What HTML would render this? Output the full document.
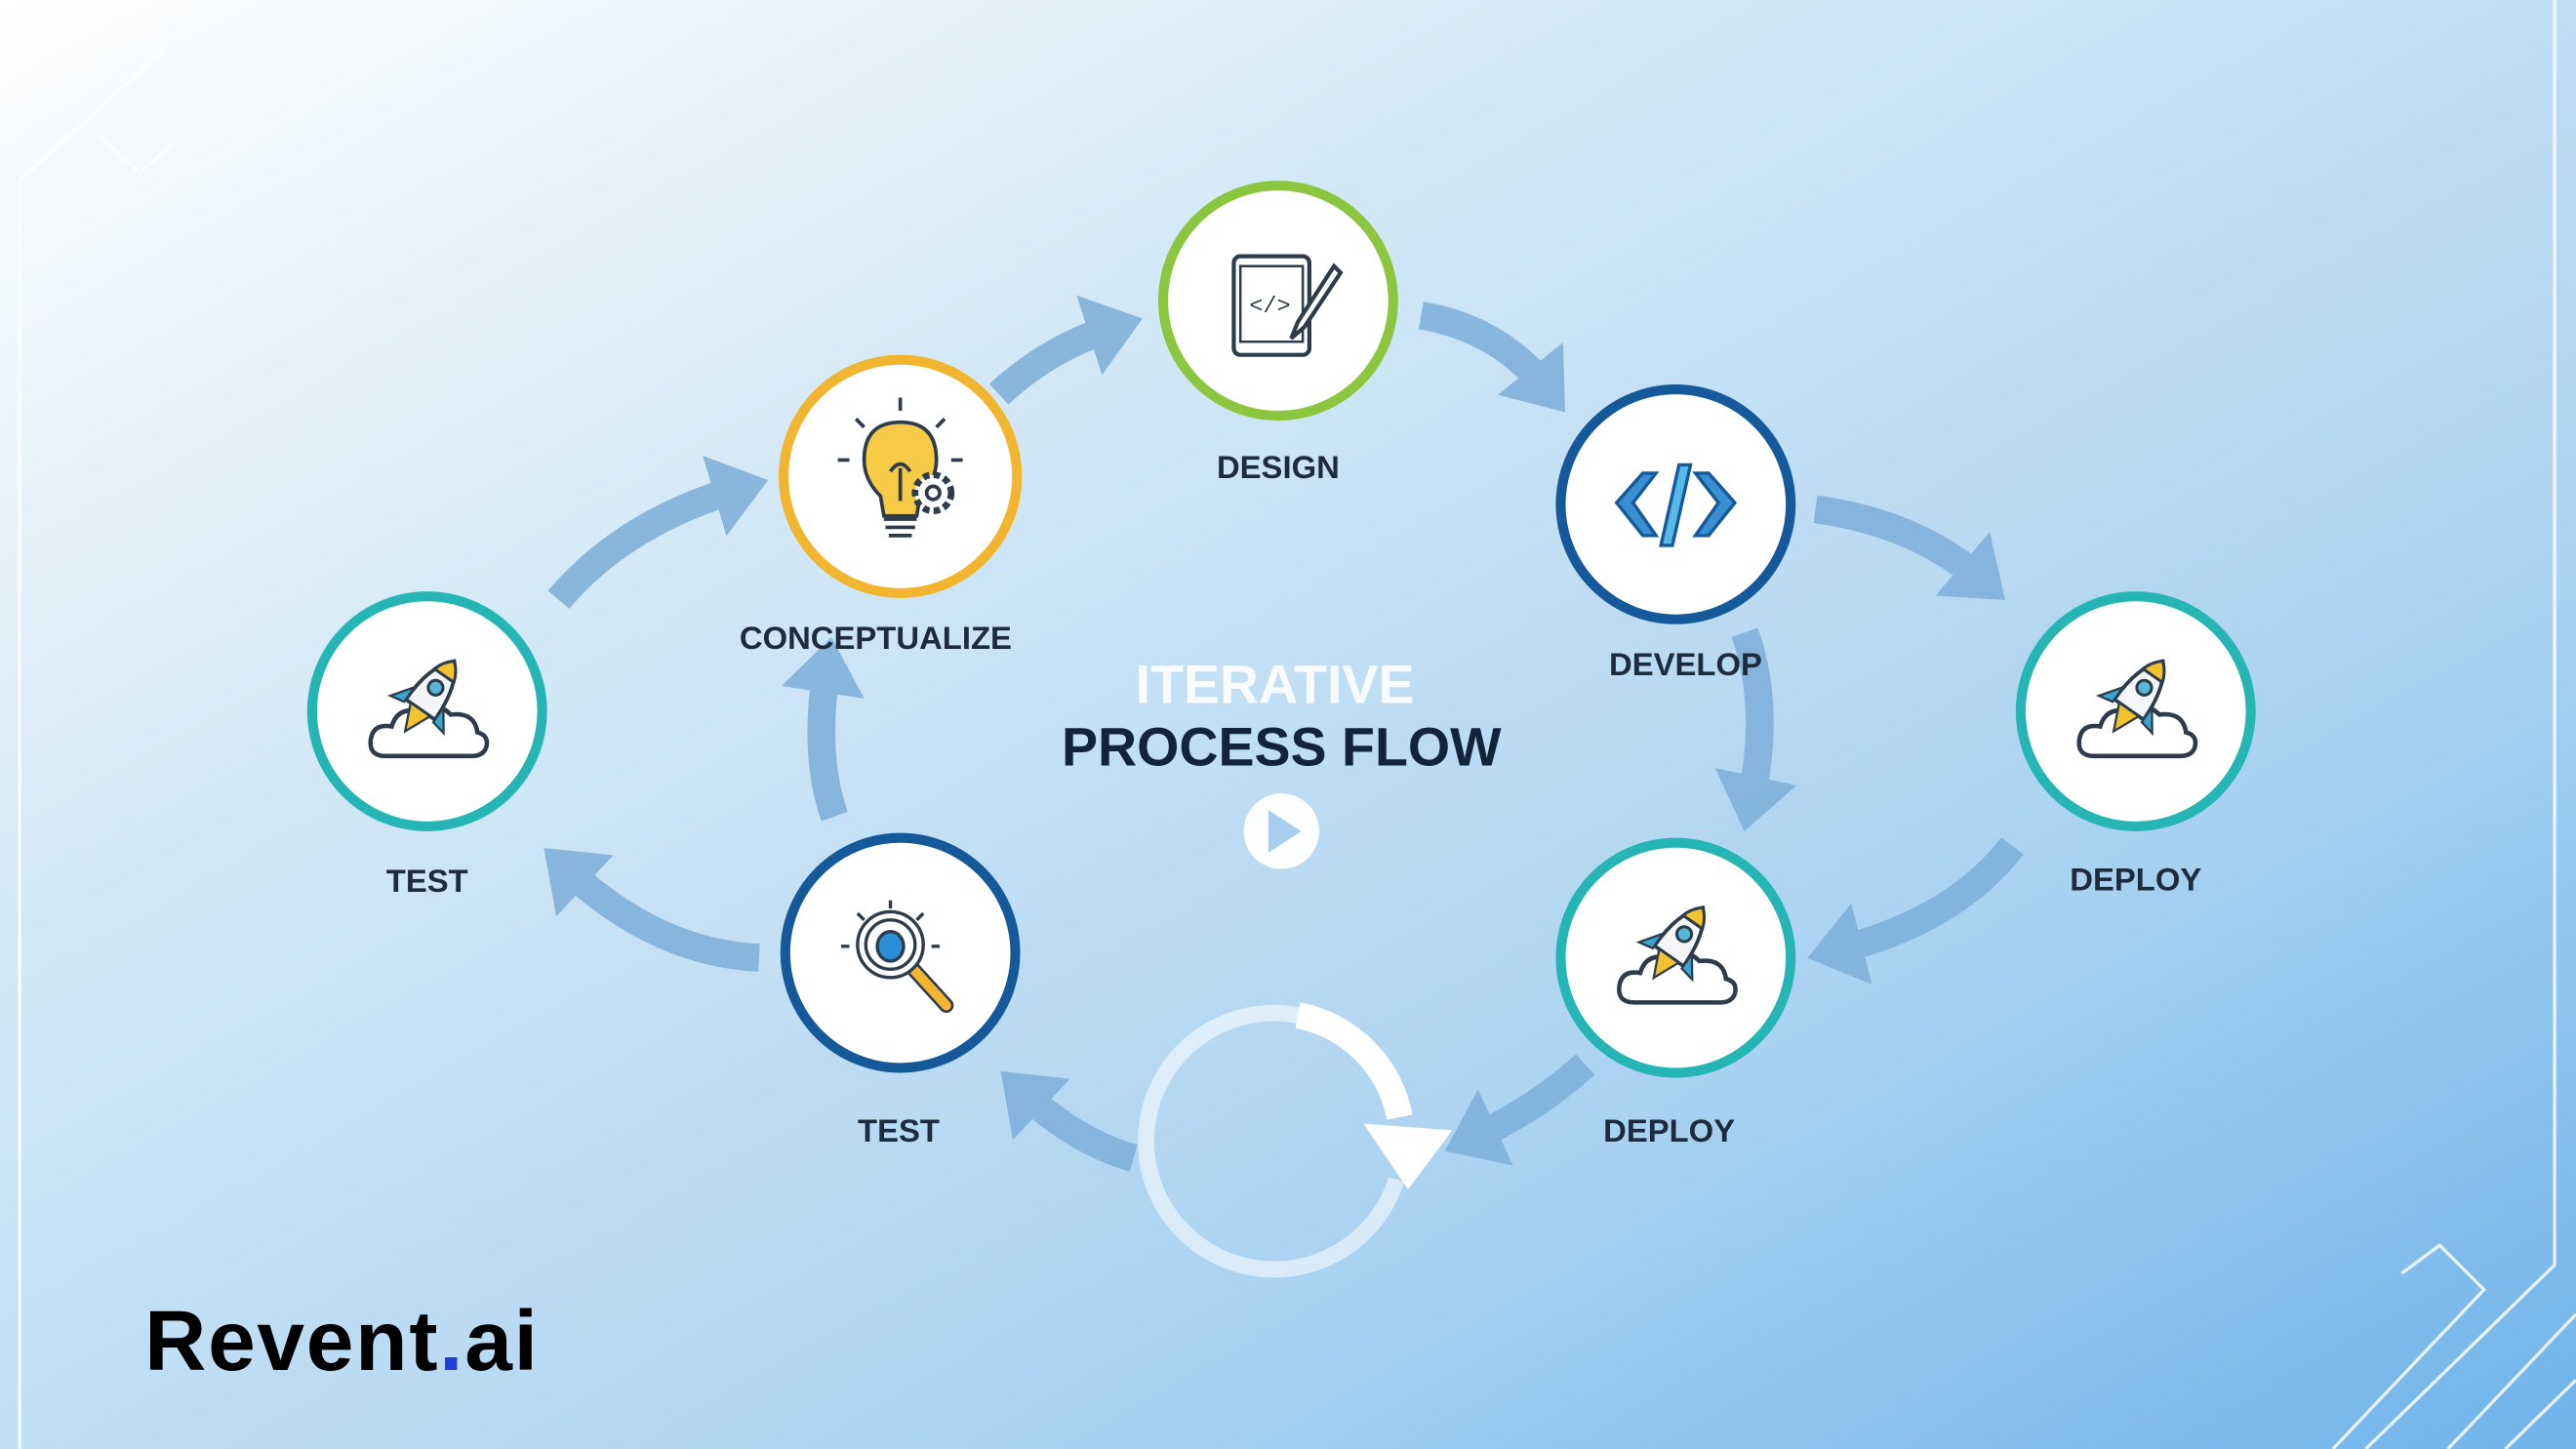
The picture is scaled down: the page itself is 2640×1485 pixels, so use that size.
<!DOCTYPE html>
<html><head><meta charset="utf-8"><style>
html,body{margin:0;padding:0;width:2640px;height:1485px;overflow:hidden}
svg{display:block}
</style></head><body>
<svg width="2640" height="1485" viewBox="0 0 1568 882" xmlns="http://www.w3.org/2000/svg">
<defs>
<linearGradient id="bg" x1="0" y1="0" x2="1" y2="1">
<stop offset="0" stop-color="#ffffff"/>
<stop offset="0.3" stop-color="#d6eaf7"/>
<stop offset="0.7" stop-color="#aad2f1"/>
<stop offset="1" stop-color="#6fb3e9"/>
</linearGradient>
<marker id="ah" markerWidth="3" markerHeight="3" refX="0.8" refY="1.5" orient="auto" markerUnits="strokeWidth">
<path d="M0,0 L2,1.5 L0,3 Z" fill="#7eaed8"/>
</marker>
<symbol id="rocket" viewBox="0 0 100 100">
<path d="M22,78 Q10,78 12,66 Q14,56 26,58 Q30,44 46,48 Q56,40 66,50 Q82,48 84,62 Q92,64 90,72 Q88,78 80,78 Z" fill="#fff" stroke="#2d3b4a" stroke-width="3"/>
<g transform="rotate(35 50 40)">
<path d="M50,8 Q62,20 62,48 L38,48 Q38,20 50,8 Z" fill="#f3f5f7" stroke="#2d3b4a" stroke-width="2.5"/>
<path d="M50,8 Q56,13 58,20 L42,20 Q44,13 50,8 Z" fill="#f2c230" stroke="#2d3b4a" stroke-width="2"/>
<circle cx="50" cy="30" r="5" fill="#58b8d8" stroke="#2d3b4a" stroke-width="2"/>
<path d="M38,38 L28,52 L38,50 Z M62,38 L72,52 L62,50 Z" fill="#3aa6cf" stroke="#2d3b4a" stroke-width="1.5"/>
<path d="M42,48 L50,66 L58,48 Z" fill="#f2c230" stroke="#2d3b4a" stroke-width="1.5"/>
</g>
</symbol>
</defs>
<rect width="1568" height="882" fill="url(#bg)"/>
<g stroke="#ffffff" stroke-width="2" fill="none" opacity="0.8">
<path d="M12,882 L12,110 L100,30"/>
<path d="M60,82 L85,105 L105,88"/>
<path d="M1555,0 L1555,770 L1440,882"/>
<path d="M1462,775 L1485,758 L1512,785 L1420,882"/>
<path d="M1568,800 L1490,882"/>
<path d="M1568,840 L1525,882"/>
</g>
<g fill="none" stroke="#7eaed8" stroke-width="17" opacity="0.85" stroke-linecap="butt" marker-end="url(#ah)">
<path d="M340,365 Q380,318 448,298"/>
<path d="M608,240 Q638,212 676,200"/>
<path d="M865,192 Q912,200 940,235"/>
<path d="M1105,310 Q1165,318 1205,352"/>
<path d="M1062,385 Q1078,430 1066,486"/>
<path d="M1225,515 Q1190,560 1120,578"/>
<path d="M965,648 Q935,675 898,692"/>
<path d="M690,705 Q655,695 624,666"/>
<path d="M462,583 Q400,580 346,530"/>
<path d="M508,497 Q495,460 503,408"/>
</g>
<path d="M790,618 A78,78 0 1 0 850,718" fill="none" stroke="#ffffff" stroke-width="10" opacity="0.55"/>
<path d="M790,618 A78,78 0 0 1 852,680" fill="none" stroke="#ffffff" stroke-width="16"/>
<path d="M830,684 L884,688 L857,724 Z" fill="#ffffff"/>
<g stroke-width="6" fill="#fff">
<circle cx="778" cy="183" r="70" stroke="#8cc63f"/>
<circle cx="548" cy="290" r="71" stroke="#f2b52f"/>
<circle cx="1020" cy="307" r="70" stroke="#15599a"/>
<circle cx="260" cy="433" r="70" stroke="#26b5b5"/>
<circle cx="1300" cy="433" r="70" stroke="#26b5b5"/>
<circle cx="548" cy="580" r="70" stroke="#15599a"/>
<circle cx="1020" cy="583" r="70" stroke="#26b5b5"/>
</g>
<g stroke="#2d3b4a" stroke-width="2.5" fill="none">
<rect x="751" y="156" width="46" height="60" rx="4"/>
<rect x="755" y="162" width="38" height="46" stroke-width="1.5"/>
<text x="773" y="190" font-family="Liberation Mono" font-size="14" fill="#2d3b4a" stroke="none" text-anchor="middle">&lt;/&gt;</text>
<path d="M812,162 L790,196 L786,206 L794,199 L816,166 Z" fill="#fff"/>
</g>
<g stroke="#2d3b4a" stroke-width="2.2">
<path d="M548,257 Q570,257 570,280 Q570,292 560,302 L558,314 L538,314 L536,302 Q526,292 526,280 Q526,257 548,257 Z" fill="#f7cb45"/>
<path d="M538,316 L558,316 M539,321 L557,321 M541,326 L555,326" fill="none"/>
<path d="M548,242 L548,250 M521,255 L526,260 M575,255 L570,260 M510,280 L517,280 M579,280 L586,280 M548,305 L548,285 M542,287 Q548,278 554,287" fill="none"/>
<circle cx="568" cy="300" r="11" fill="#fff" stroke-dasharray="4 2.5" stroke-width="4"/>
<circle cx="568" cy="300" r="4" fill="#fff"/>
</g>
<g fill="#3a8fd0" stroke="#15599a" stroke-width="2">
<path d="M1000,288 L984,306 L1000,326 L1008,326 L994,306 L1008,288 Z"/>
<path d="M1040,288 L1056,306 L1040,326 L1032,326 L1046,306 L1032,288 Z"/>
<path d="M1022,283 L1029,283 L1018,332 L1011,332 Z" fill="#58b8e8"/>
</g>
<use href="#rocket" x="215" y="390" width="90" height="90"/>
<use href="#rocket" x="1255" y="390" width="90" height="90"/>
<use href="#rocket" x="975" y="540" width="90" height="90"/>
<g stroke="#2d3b4a" stroke-width="2">
<path d="M556,590 L576,612" stroke="#2d3b4a" stroke-width="9" stroke-linecap="round"/>
<path d="M556,590 L576,612" stroke="#f2b52f" stroke-width="6" stroke-linecap="round"/>
<circle cx="542" cy="575" r="20" fill="#fff"/>
<circle cx="542" cy="575" r="15" fill="#fff"/>
<ellipse cx="542" cy="576" rx="8" ry="9" fill="#2a8fd6"/>
<path d="M542,548 L542,553 M522,556 L526,560 M562,556 L558,560 M512,576 L517,576 M572,576 L567,576" fill="none"/>
</g>
<g font-family="Liberation Sans, sans-serif" font-weight="bold" font-size="19.5" fill="#1d2b3d" text-anchor="middle">
<text x="778" y="291">DESIGN</text>
<text x="533" y="395">CONCEPTUALIZE</text>
<text x="1026" y="411">DEVELOP</text>
<text x="260" y="543">TEST</text>
<text x="1300" y="542">DEPLOY</text>
<text x="547" y="695">TEST</text>
<text x="1016" y="695">DEPLOY</text>
</g>
<text x="776" y="428" font-family="Liberation Sans, sans-serif" font-weight="bold" font-size="33" fill="#ffffff" text-anchor="middle" opacity="0.9">ITERATIVE</text>
<text x="780" y="466" font-family="Liberation Sans, sans-serif" font-weight="bold" font-size="33" fill="#13233a" text-anchor="middle">PROCESS FLOW</text>
<circle cx="780" cy="506" r="23" fill="#ffffff" opacity="0.95"/>
<path d="M772,493 L792,506 L772,519 Z" fill="#a8cdee"/>
<text x="88" y="834" font-family="Liberation Sans, sans-serif" font-weight="bold" font-size="52" letter-spacing="1" fill="#000">Revent<tspan fill="#1f3fd8">.</tspan>ai</text>
</svg>
</body></html>
